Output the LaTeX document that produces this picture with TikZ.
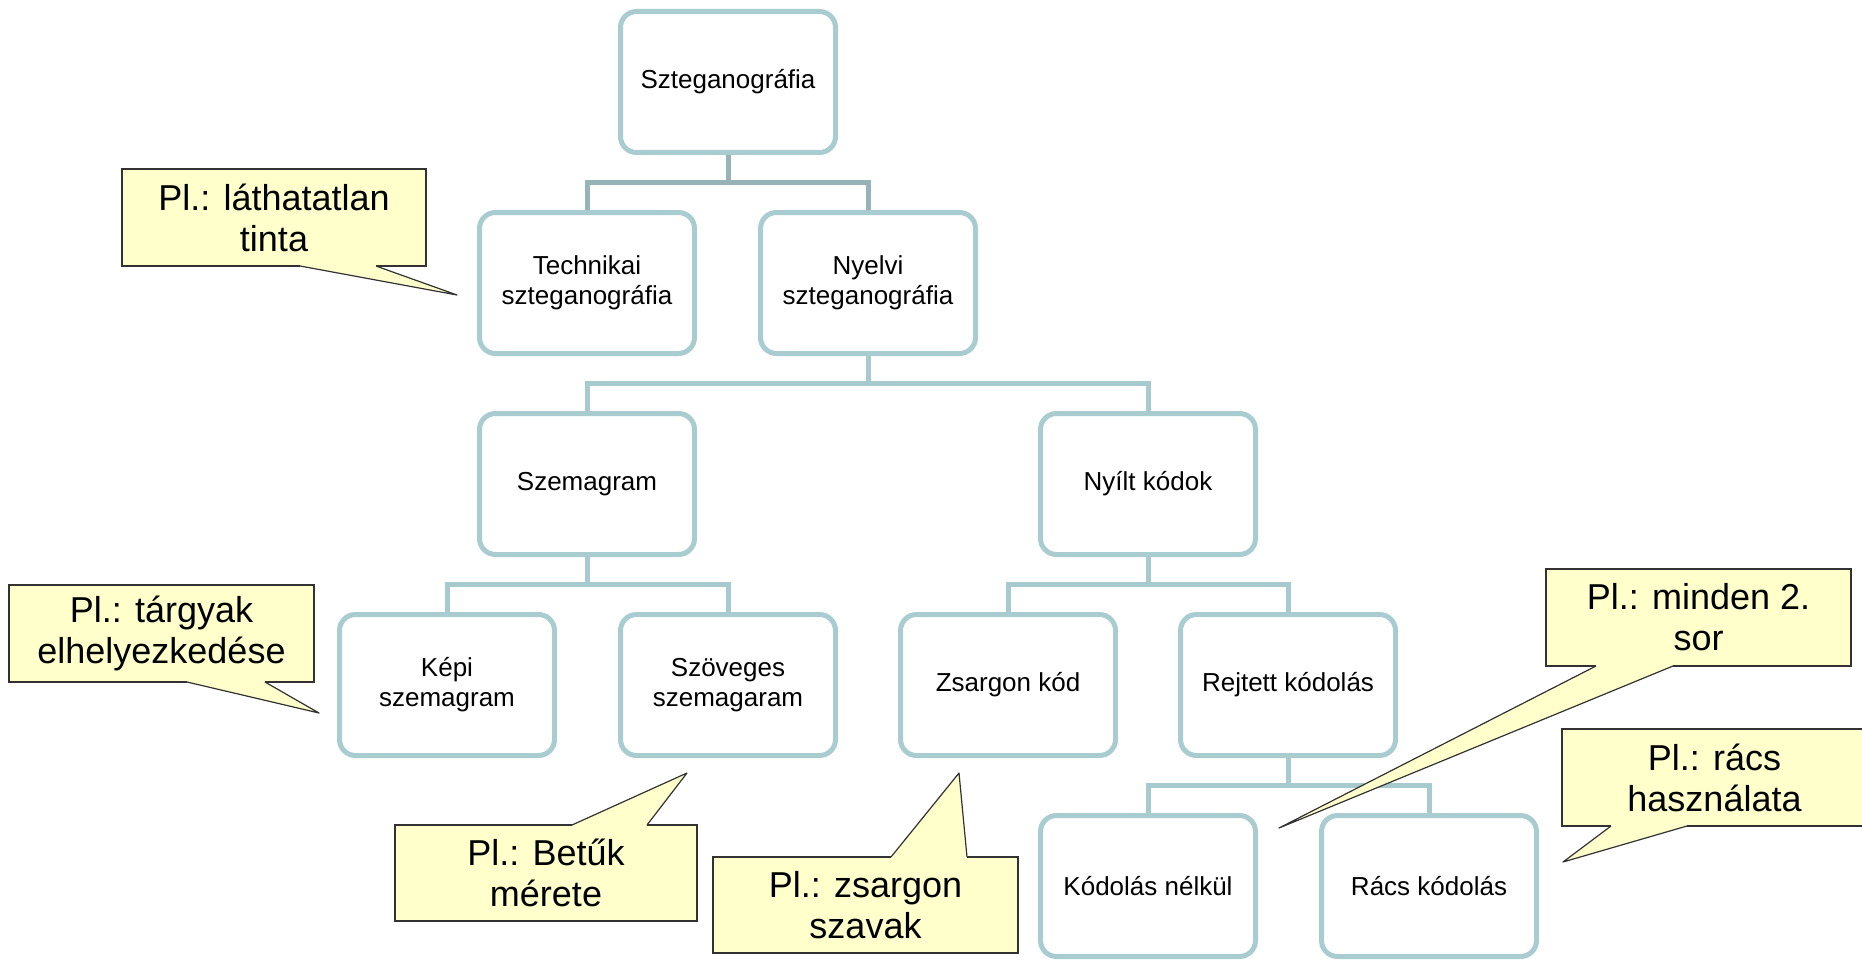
\documentclass[tikz,border=0pt]{standalone}
\usepackage{fontspec}
\setmainfont{Liberation Sans}
\usetikzlibrary{backgrounds}
\definecolor{boxline}{RGB}{168,204,208}
\definecolor{linkcol}{RGB}{166,202,206}
\definecolor{toplink}{RGB}{150,180,184}
\definecolor{callfill}{RGB}{255,255,204}
\definecolor{calledge}{RGB}{50,50,50}
\begin{document}
\begin{tikzpicture}[x=1pt,y=-1pt,
  orgbox/.style={draw=boxline, line width=5pt, fill=white, rounded corners=16pt,
    minimum width=215pt, minimum height=141pt, inner sep=0pt, outer sep=0pt,
    align=center, font=\fontsize{26}{30}\selectfont},
  linkline/.style={draw=linkcol, line width=5pt, line join=miter},
  toplinkline/.style={draw=toplink, line width=5pt, line join=miter},
  callbox/.style={draw=calledge, line width=1.2pt, fill=callfill, inner sep=0pt,
    outer sep=0pt, align=center, font=\fontsize{36}{41}\selectfont},
  tailedge/.style={draw=calledge, line width=1.2pt, line join=round},
  tailcover/.style={draw=callfill, line width=2.2pt}]
\useasboundingbox (0,0) rectangle (1862,960);

% hierarchy boxes
\node[orgbox] (root)  at (728,82)  {Szteganográfia};
\node[orgbox] (tech)  at (587,283) {Technikai\\szteganográfia};
\node[orgbox] (nyelv) at (868,283) {Nyelvi\\szteganográfia};
\node[orgbox] (szem)  at (587,484) {Szemagram};
\node[orgbox] (nyilt) at (1148,484) {Nyílt kódok};
\node[orgbox] (kepi)  at (447,685) {Képi\\szemagram};
\node[orgbox] (szov)  at (728,685) {Szöveges\\szemagaram};
\node[orgbox] (zsarg) at (1008,685) {Zsargon kód};
\node[orgbox] (rejt)  at (1288,685) {Rejtett kódolás};
\node[orgbox] (kodn)  at (1148,886) {Kódolás nélkül};
\node[orgbox] (racs)  at (1429,886) {Rács kódolás};

% elbow connectors behind the boxes
\begin{scope}[on background layer]
  \draw[toplinkline] (root.south) -- ++(0,30) coordinate (j0);
  \draw[toplinkline] (j0) -| (tech.north);
  \draw[toplinkline] (j0) -| (nyelv.north);
  \draw[linkline] (nyelv.south) -- ++(0,30) coordinate (j1);
  \draw[linkline] (j1) -| (szem.north);
  \draw[linkline] (j1) -| (nyilt.north);
  \draw[linkline] (szem.south) -- ++(0,30) coordinate (j2);
  \draw[linkline] (j2) -| (kepi.north);
  \draw[linkline] (j2) -| (szov.north);
  \draw[linkline] (nyilt.south) -- ++(0,30) coordinate (j3);
  \draw[linkline] (j3) -| (zsarg.north);
  \draw[linkline] (j3) -| (rejt.north);
  \draw[linkline] (rejt.south) -- ++(0,30) coordinate (j4);
  \draw[linkline] (j4) -| (kodn.north);
  \draw[linkline] (j4) -| (racs.north);
\end{scope}

% callouts: text box, then its pointer
\node[callbox, minimum width=304pt, minimum height=97pt] (c1) at (274,217.5) {Pl.: láthatatlan\\tinta};
\coordinate (c1a) at (300,266); \coordinate (c1b) at (376,266); \coordinate (c1t) at (457,295);
\fill[callfill] (c1a) -- (c1t) -- (c1b) -- cycle;
\draw[tailcover] (c1a) -- (c1b);
\draw[tailedge] (c1a) -- (c1t) -- (c1b);

\node[callbox, minimum width=305pt, minimum height=97pt] (c2) at (161.5,633.5) {Pl.: tárgyak\\elhelyezkedése};
\coordinate (c2a) at (187,682); \coordinate (c2b) at (265,682); \coordinate (c2t) at (319,713);
\fill[callfill] (c2a) -- (c2t) -- (c2b) -- cycle;
\draw[tailcover] (c2a) -- (c2b);
\draw[tailedge] (c2a) -- (c2t) -- (c2b);

\node[callbox, minimum width=302pt, minimum height=96pt] (c3) at (546,873) {Pl.: Betűk\\mérete};
\coordinate (c3a) at (572,825); \coordinate (c3b) at (647,825); \coordinate (c3t) at (687,773);
\fill[callfill] (c3a) -- (c3t) -- (c3b) -- cycle;
\draw[tailcover] (c3a) -- (c3b);
\draw[tailedge] (c3a) -- (c3t) -- (c3b);

\node[callbox, minimum width=305pt, minimum height=96pt] (c4) at (865.5,905) {Pl.: zsargon\\szavak};
\coordinate (c4a) at (891,857); \coordinate (c4b) at (967,857); \coordinate (c4t) at (959,773);
\fill[callfill] (c4a) -- (c4t) -- (c4b) -- cycle;
\draw[tailcover] (c4a) -- (c4b);
\draw[tailedge] (c4a) -- (c4t) -- (c4b);

\node[callbox, minimum width=305pt, minimum height=97pt] (c5) at (1698.5,617.5) {Pl.: minden 2.\\sor};
\coordinate (c5a) at (1596,666); \coordinate (c5b) at (1673,666); \coordinate (c5t) at (1279,828);
\fill[callfill] (c5a) -- (c5t) -- (c5b) -- cycle;
\draw[tailcover] (c5a) -- (c5b);
\draw[tailedge] (c5a) -- (c5t) -- (c5b);

\node[callbox, minimum width=305pt, minimum height=97pt] (c6) at (1714.5,777.5) {Pl.: rács\\használata};
\coordinate (c6a) at (1611,826); \coordinate (c6b) at (1687,826); \coordinate (c6t) at (1563,862);
\fill[callfill] (c6a) -- (c6t) -- (c6b) -- cycle;
\draw[tailcover] (c6a) -- (c6b);
\draw[tailedge] (c6a) -- (c6t) -- (c6b);
\end{tikzpicture}
\end{document}
